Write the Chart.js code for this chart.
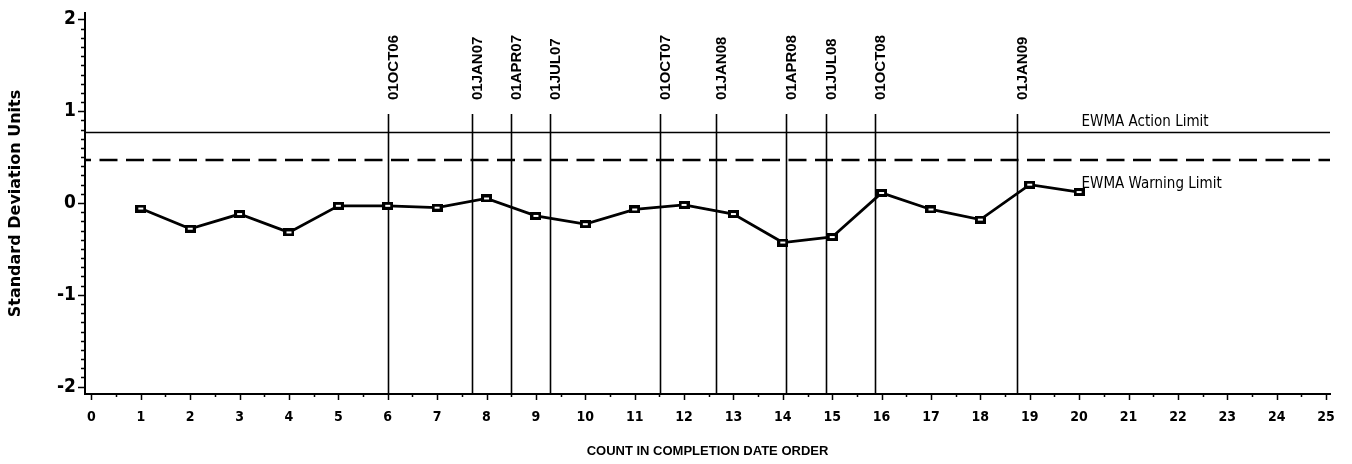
<!DOCTYPE html>
<html>
<head>
<meta charset="utf-8">
<script src="https://cdn.jsdelivr.net/npm/chart.js@4.4.1/dist/chart.umd.min.js"></script>
<style>
  html, body { margin: 0; padding: 0; background: #fff; }
  #wrap { width: 1352px; height: 464px; }
</style>
</head>
<body>
<div id="wrap"><canvas id="chart" width="1352" height="464"></canvas></div>
<script>
// EWMA chart of standardised results, in completion order
const counts = [1, 2, 3, 4, 5, 6, 7, 8, 9, 10, 11, 12, 13, 14, 15, 16, 17, 18, 19, 20];
const ewmaValues = [-0.06, -0.28, -0.12, -0.32, -0.03, -0.03, -0.05, 0.05, -0.14, -0.23,
                    -0.07, -0.02, -0.12, -0.43, -0.37, 0.11, -0.07, -0.18, 0.20, 0.12];

const actionLimit = 0.77;
const warningLimit = 0.47;
const limitLabels = ['EWMA Action Limit', 'EWMA Warning Limit'];
const limitLabelX = 20.05;

// quarter boundaries, placed on the count axis
const quarterLabels = ['01OCT06', '01JAN07', '01APR07', '01JUL07', '01OCT07',
                       '01JAN08', '01APR08', '01JUL08', '01OCT08', '01JAN09'];
const quarterPositions = [6.0, 7.7, 8.49, 9.28, 11.51, 12.64, 14.06, 14.88, 15.87, 18.74];

const xTickValues = [0, 1, 2, 3, 4, 5, 6, 7, 8, 9, 10, 11, 12, 13, 14, 15, 16, 17, 18, 19, 20, 21, 22, 23, 24, 25];
const yTickValues = [-2, -1, 0, 1, 2];

const NARROW = '"Liberation Sans Narrow", "DejaVu Sans Condensed", "Arial Narrow", sans-serif';

// hollow rectangular marker
function makeMarker() {
  const c = document.createElement('canvas');
  c.width = 11; c.height = 8;
  const g = c.getContext('2d');
  g.fillStyle = '#000';
  g.fillRect(0, 0, 11, 8);
  g.fillStyle = '#fff';
  g.fillRect(3, 3, 5, 2);
  return c;
}

const decorations = {
  id: 'decorations',
  beforeDatasetsDraw(chart) {
    const { ctx, chartArea: a, scales: { x, y } } = chart;
    ctx.save();
    ctx.strokeStyle = '#000';
    ctx.fillStyle = '#000';

    // action limit (solid) and warning limit (dashed)
    const ay = Math.round(y.getPixelForValue(actionLimit)) + 0.5;
    ctx.lineWidth = 1.6;
    ctx.beginPath(); ctx.moveTo(a.left, ay); ctx.lineTo(a.right, ay); ctx.stroke();

    const wy = Math.round(y.getPixelForValue(warningLimit));
    ctx.lineWidth = 2.6;
    ctx.setLineDash([18, 8.5]);
    ctx.lineDashOffset = 12;
    ctx.beginPath(); ctx.moveTo(a.left, wy); ctx.lineTo(a.right, wy); ctx.stroke();
    ctx.setLineDash([]);

    // limit captions
    ctx.font = '15px ' + NARROW;
    ctx.textAlign = 'left';
    ctx.textBaseline = 'alphabetic';
    const lx = x.getPixelForValue(limitLabelX);
    ctx.fillText(limitLabels[0], lx, ay - 7);
    ctx.fillText(limitLabels[1], lx, wy + 28);

    // quarter boundary lines with rotated date captions
    const labelBase = a.top + 87;
    const lineTop = a.top + 101;
    ctx.font = 'bold 15px "Liberation Sans", Arial, sans-serif';
    quarterPositions.forEach((v, i) => {
      const px = Math.round(x.getPixelForValue(v)) + 0.5;
      ctx.lineWidth = 1.6;
      ctx.beginPath(); ctx.moveTo(px, lineTop); ctx.lineTo(px, a.bottom); ctx.stroke();
      ctx.save();
      ctx.translate(px + 9, labelBase);
      ctx.rotate(-Math.PI / 2);
      ctx.fillText(quarterLabels[i], 0, 0);
      ctx.restore();
    });
    ctx.restore();
  },
  afterDraw(chart) {
    const { ctx, chartArea: a, scales: { x, y } } = chart;
    ctx.save();
    ctx.strokeStyle = '#000';
    ctx.lineWidth = 1.5;
    ctx.beginPath();
    // count axis: majors at whole numbers, minors at halves
    for (let k = 0; k <= 50; k++) {
      const v = k / 2;
      const px = Math.round(x.getPixelForValue(v)) + 0.5;
      const len = k % 2 === 0 ? 6 : 3;
      ctx.moveTo(px, a.bottom); ctx.lineTo(px, a.bottom + len);
    }
    // value axis: majors at whole units, minors every tenth
    for (let k = -20; k <= 20; k++) {
      const v = k / 10;
      const py = Math.round(y.getPixelForValue(v)) + 0.5;
      const len = k % 10 === 0 ? 7 : 4;
      ctx.moveTo(a.left, py); ctx.lineTo(a.left - len, py);
    }
    ctx.stroke();
    ctx.restore();
  }
};

new Chart(document.getElementById('chart'), {
  type: 'line',
  data: {
    datasets: [{
      data: counts.map((c, i) => ({ x: c, y: ewmaValues[i] })),
      borderColor: '#000',
      borderWidth: 2.8,
      tension: 0,
      pointStyle: makeMarker(),
      pointRadius: 5,
      clip: false
    }]
  },
  options: {
    responsive: false,
    devicePixelRatio: 1,
    animation: false,
    events: [],
    layout: { padding: { top: 13, right: 22, left: 0, bottom: 0 } },
    plugins: { legend: { display: false }, tooltip: { enabled: false } },
    scales: {
      x: {
        type: 'linear',
        min: -0.13,
        max: 25.08,
        afterBuildTicks: s => { s.ticks = xTickValues.map(v => ({ value: v })); },
        afterFit: s => { s.height = 70; s.paddingLeft = 0; s.paddingRight = 0; },
        grid: { display: false, drawTicks: false, tickLength: 0 },
        border: { display: true, color: '#000', width: 2 },
        ticks: {
          autoSkip: false, maxRotation: 0, minRotation: 0,
          padding: 15, color: '#000',
          font: { family: NARROW, size: 14, weight: 'bold' },
          callback: v => String(v)
        },
        title: {
          display: true,
          text: 'COUNT IN COMPLETION DATE ORDER',
          color: '#000',
          font: { family: '"Liberation Sans", Arial, sans-serif', size: 13, weight: 'bold' },
          padding: { top: 0, bottom: 4.5 }
        }
      },
      y: {
        type: 'linear',
        min: -2.08,
        max: 2.07,
        afterBuildTicks: s => { s.ticks = yTickValues.map(v => ({ value: v })); },
        afterFit: s => { s.width = 85; s.paddingTop = 0; s.paddingBottom = 0; },
        grid: { display: false, drawTicks: false, tickLength: 0 },
        border: { display: true, color: '#000', width: 2 },
        ticks: {
          padding: 9, color: '#000',
          font: { family: NARROW, size: 19, weight: 'bold' },
          callback: v => String(v)
        },
        title: {
          display: true,
          text: 'Standard Deviation Units',
          color: '#000',
          font: { family: '"DejaVu Sans", sans-serif', size: 16, weight: 'bold' },
          padding: { top: 6, bottom: 0 }
        }
      }
    }
  },
  plugins: [decorations]
});
</script>
</body>
</html>
